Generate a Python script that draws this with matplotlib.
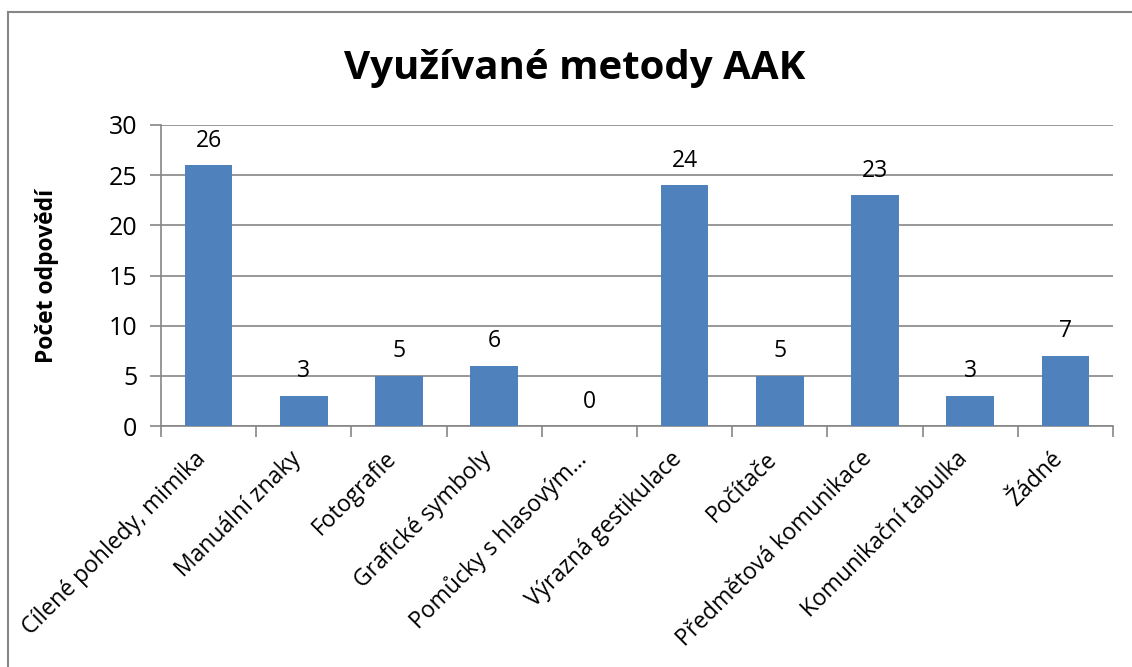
"""Sloupcový graf: využívané metody AAK."""

import matplotlib

matplotlib.use("Agg")
import matplotlib.pyplot as plt
import numpy as np
from matplotlib.lines import Line2D
from matplotlib.transforms import ScaledTranslation

KATEGORIE = [
    "Cílené pohledy, mimika",
    "Manuální znaky",
    "Fotografie",
    "Grafické symboly",
    "Pomůcky s hlasovým…",
    "Výrazná gestikulace",
    "Počítače",
    "Předmětová komunikace",
    "Komunikační tabulka",
    "Žádné",
]
POCTY = [26, 3, 5, 6, 0, 24, 5, 23, 3, 7]
Y_TICKY = [0, 5, 10, 15, 20, 25, 30]

plt.rcParams["font.family"] = ["Open Sans", "DejaVu Sans"]

SEDA = "#868686"
MODRA = "#4F81BD"

fig = plt.figure(figsize=(11.32, 6.67), dpi=100)
eixo = fig.add_axes([0.1422, 0.3613, 0.8410, 0.4513])

x = np.arange(len(KATEGORIE))
barras = eixo.bar(x, POCTY, width=0.5, color=MODRA, zorder=3)
eixo.bar_label(barras, labels=[str(v) for v in POCTY], padding=9, fontsize=16.5)

eixo.set_xlim(-0.5, len(KATEGORIE) - 0.5)
eixo.set_ylim(0, 30)
eixo.set_yticks(Y_TICKY)
eixo.yaxis.grid(True, color=SEDA, lw=1.2, zorder=0)
eixo.tick_params(axis="y", length=8, width=1.2, color=SEDA, pad=9, labelsize=18)

eixo.set_xticks(x)
eixo.set_xticklabels(KATEGORIE, rotation=45, ha="right", rotation_mode="anchor", fontsize=16.5)
eixo.tick_params(axis="x", which="major", length=0, pad=15)
posun = ScaledTranslation(-15 / 100, 0, fig.dpi_scale_trans)
for popisek in eixo.get_xticklabels():
    popisek.set_transform(popisek.get_transform() + posun)
eixo.set_xticks(np.arange(len(KATEGORIE) + 1) - 0.5, minor=True)
eixo.tick_params(axis="x", which="minor", length=8, width=1.2, color=SEDA)

for lado in ("top", "right"):
    eixo.spines[lado].set_visible(False)
for lado in ("left", "bottom"):
    eixo.spines[lado].set_color(SEDA)
    eixo.spines[lado].set_linewidth(1.2)

eixo.set_ylabel("Počet odpovědí", fontsize=16.5, fontweight="bold", labelpad=36)

fig.text(0.508, 0.898, "Využívané metody AAK", ha="center", va="center",
         fontsize=29, fontweight="bold")

# rámeček grafu (jako v Excelu)
fig.add_artist(Line2D([0.007, 1.0], [0.982, 0.982], color=SEDA, lw=1.5))
fig.add_artist(Line2D([0.007, 0.007], [0.0, 0.982], color=SEDA, lw=1.5))

fig.savefig("out.png", dpi=100)
plt.close(fig)
